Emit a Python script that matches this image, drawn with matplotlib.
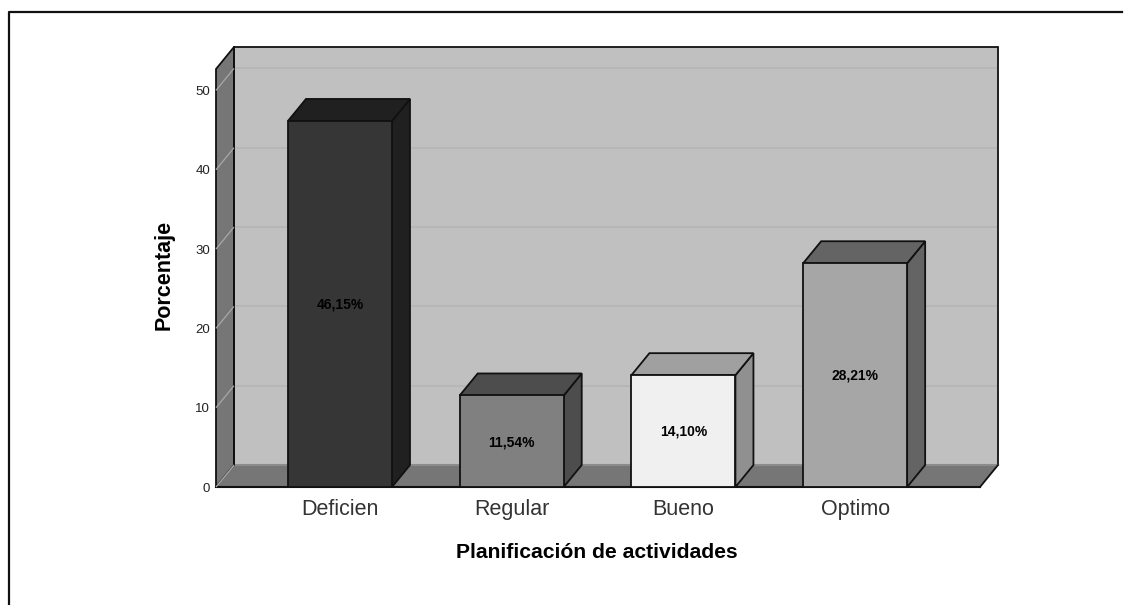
import matplotlib
matplotlib.use('Agg')
import matplotlib.pyplot as plt
from matplotlib.patches import Polygon

categories = ['Deficien', 'Regular', 'Bueno', 'Optimo']
values = [46.15, 11.54, 14.10, 28.21]
labels = ['46,15%', '11,54%', '14,10%', '28,21%']
front_colors = ['#363636', '#808080', '#f0f0f0', '#a6a6a6']
top_colors = ['#202020', '#4d4d4d', '#a0a0a0', '#646464']
side_colors = ['#202020', '#4d4d4d', '#909090', '#646464']
y_ticks = [0, 10, 20, 30, 40, 50]

W, H = 1132, 605
plt.rcParams['font.family'] = ['Liberation Sans', 'DejaVu Sans']

fig = plt.figure(figsize=(W / 100, H / 100), dpi=100)

# axes covers the front plane of the 3d box, 216..980 px wide, 0 at y=487
left, right, bottom, top = 216, 980, 487, 69
ax = fig.add_axes([left / W, 1 - bottom / H, (right - left) / W, (bottom - top) / H])
ax.set_xlim(-0.722, 3.727)
ax.set_ylim(0, 52.7)
ax.axis('off')

# depth of the box and bar width, in data units
dx = 18 / (right - left) * (ax.get_xlim()[1] - ax.get_xlim()[0])
dy = 22 / (bottom - top) * (ax.get_ylim()[1] - ax.get_ylim()[0])
ymax = ax.get_ylim()[1]
x0, x1 = ax.get_xlim()
bar_w = 104 / (right - left) * (x1 - x0)
edge = '#111111'


def poly(points, color, z, lw=1.3):
    ax.add_patch(Polygon(points, closed=True, facecolor=color, edgecolor=edge,
                         linewidth=lw, zorder=z, clip_on=False))


# back wall, side wall, floor
poly([(x0 + dx, dy), (x1 + dx, dy), (x1 + dx, ymax + dy), (x0 + dx, ymax + dy)], '#c0c0c0', 1)
poly([(x0, 0), (x0 + dx, dy), (x0 + dx, ymax + dy), (x0, ymax)], '#767676', 1.5)
ax.add_patch(Polygon([(x0, 0), (x1, 0), (x1 + dx, dy), (x0 + dx, dy)], closed=True,
                     facecolor='#767676', edgecolor='none', zorder=1.6, clip_on=False))
ax.plot([x0, x1], [0, 0], color=edge, lw=1.5, zorder=1.7, clip_on=False)
ax.plot([x1, x1 + dx], [0, dy], color=edge, lw=1.3, zorder=1.7, clip_on=False)
ax.plot([x0 + dx, x1 + dx], [dy, dy], color='#8c8c8c', lw=1.5, zorder=1.65, clip_on=False)
ax.plot([x0 + dx, x0 + dx], [dy, ymax + dy], color=edge, lw=1.3, zorder=1.7, clip_on=False)

# grid lines on the wall
for t in y_ticks:
    ax.plot([x0, x0 + dx], [t, t + dy], color='#a8a8a8', lw=0.9, zorder=1.8, clip_on=False,
            solid_capstyle='butt')
    if t > 0:
        ax.plot([x0 + dx, x1 + dx - 0.005], [t + dy, t + dy], color='#b4b4b4', lw=1.1, zorder=1.2,
                clip_on=False, solid_capstyle='butt')
    ax.text(x0 - 0.035, t - 0.2, str(t), ha='right', va='center', fontsize=9.5, color='#222222', zorder=5)

# bars
for i, v in enumerate(values):
    a, b = i - bar_w / 2, i + bar_w / 2
    poly([(b, 0), (b + dx, dy), (b + dx, v + dy), (b, v)], side_colors[i], 3)
    poly([(a, v), (b, v), (b + dx, v + dy), (a + dx, v + dy)], top_colors[i], 3)
    poly([(a, 0), (b, 0), (b, v), (a, v)], front_colors[i], 4)
    ax.text(i, v / 2 - 0.1, labels[i], ha='center', va='center', fontsize=10,
            fontweight='bold', color='black', zorder=6)
    ax.text(i, -2.8, categories[i], ha='center', va='center', fontsize=15.5,
            color='#333333', zorder=6)

fig.text(597 / W, 1 - 553 / H, 'Planificación de actividades', ha='center', va='center',
         fontsize=15.2, fontweight='bold', color='black')
fig.text(164 / W, 1 - 275 / H, 'Porcentaje', ha='center', va='center', rotation=90,
         fontsize=15.5, fontweight='bold', color='black')

# outer frame, open at the bottom and right
fig.add_artist(plt.Line2D([8.5 / W, 8.5 / W, 1122 / W], [0, 1 - 11.5 / H, 1 - 11.5 / H],
                          color='#111111', lw=1.6))

fig.savefig('out.png', dpi=100)
